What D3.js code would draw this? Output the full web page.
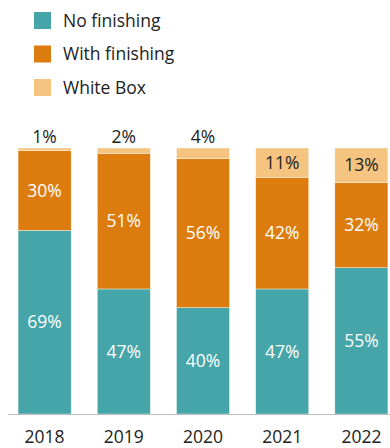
<!DOCTYPE html>
<html>
<head>
<meta charset="utf-8">
<script src="https://cdn.jsdelivr.net/npm/d3@7"></script>
<style>
  body { margin: 0; background: #fff; }
  svg text { font-family: "Open Sans", "Noto Sans", sans-serif; }
</style>
</head>
<body>
<div id="chart"></div>
<script>
var years = ["2018", "2019", "2020", "2021", "2022"];
var seriesNames = ["No finishing", "With finishing", "White Box"];
var noFinishing = [69, 47, 40, 47, 55];
var withFinishing = [30, 51, 56, 42, 32];
var whiteBox = [1, 2, 4, 11, 13];

var colors = ["#45a5a9", "#dd7c0e", "#f5c480"];

var width = 390, height = 448;

var svg = d3.select("#chart").append("svg")
    .attr("width", width)
    .attr("height", height);

// legend
var legend = svg.append("g").selectAll("g")
    .data(seriesNames)
  .enter().append("g")
    .attr("transform", function(d, i) { return "translate(34," + (12 + i * 33.5) + ")"; });

legend.append("rect")
    .attr("width", 17)
    .attr("height", 17)
    .attr("fill", function(d, i) { return colors[i]; });

legend.append("text")
    .attr("x", 29)
    .attr("y", 8.5)
    .attr("dy", "0.35em")
    .attr("font-size", 17.5)
    .attr("fill", "#222")
    .text(function(d) { return d; });

// build stacked data
var rows = years.map(function(y, i) {
  return { year: y, a: noFinishing[i], b: withFinishing[i], c: whiteBox[i] };
});
var stack = d3.stack().keys(["a", "b", "c"]);
var series = stack(rows);

var x = d3.scaleBand()
    .domain(years)
    .range([5, 401])
    .paddingInner(0.33)
    .paddingOuter(0.165);

var y = d3.scaleLinear()
    .domain([0, 100])
    .range([414, 148]);

var layer = svg.append("g").selectAll("g")
    .data(series)
  .enter().append("g")
    .attr("fill", function(d, i) { return colors[i]; });

layer.selectAll("rect")
    .data(function(d) { return d; })
  .enter().append("rect")
    .attr("x", function(d) { return x(d.data.year); })
    .attr("y", function(d) { return y(d[1]); })
    .attr("width", x.bandwidth())
    .attr("height", function(d) { return y(d[0]) - y(d[1]); })
    .attr("stroke", "#fff")
    .attr("stroke-width", 0.4);

// value labels
layer.selectAll("text")
    .data(function(d, i) { return d.map(function(p) { return { p: p, k: i }; }); })
  .enter().append("text")
    .attr("x", function(d) { return x(d.p.data.year) + x.bandwidth() / 2; })
    .attr("y", function(d) {
      var v = d.p[1] - d.p[0];
      if (d.k == 2 && v < 8) return y(d.p[1]) - 11;
      return (y(d.p[0]) + y(d.p[1])) / 2;
    })
    .attr("dy", "0.35em")
    .attr("text-anchor", "middle")
    .attr("font-size", 17.5)
    .attr("fill", function(d) { return d.k == 2 ? "#222" : "#fff"; })
    .text(function(d) { return (d.p[1] - d.p[0]) + "%"; });

// x axis
svg.append("line")
    .attr("x1", 8)
    .attr("x2", width)
    .attr("y1", 414.5)
    .attr("y2", 414.5)
    .attr("stroke", "#bdbdbd")
    .attr("stroke-width", 1);

svg.append("g").selectAll("text")
    .data(years)
  .enter().append("text")
    .attr("x", function(d) { return x(d) + x.bandwidth() / 2; })
    .attr("y", 437)
    .attr("dy", "0.35em")
    .attr("text-anchor", "middle")
    .attr("font-size", 17.5)
    .attr("fill", "#222")
    .text(function(d) { return d; });
</script>
</body>
</html>
